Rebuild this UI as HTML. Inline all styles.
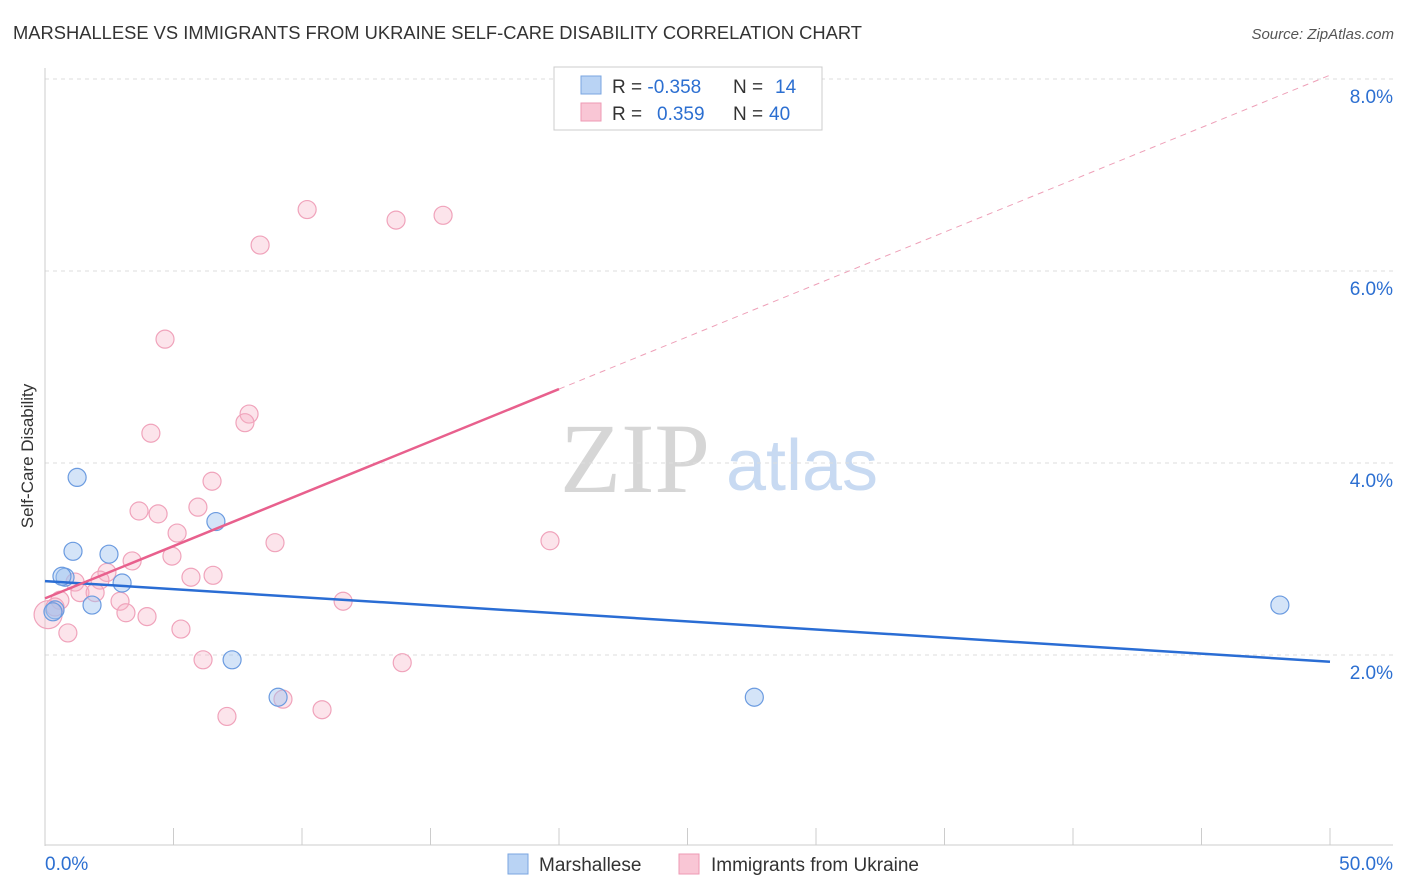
<!DOCTYPE html>
<html><head><meta charset="utf-8"><style>
body{margin:0;background:#fff;font-family:"Liberation Sans",sans-serif}
svg{display:block}
</style></head><body>
<svg id="chart" width="1406" height="892">
<text x="13" y="39" font-size="18" fill="#333" textLength="849" lengthAdjust="spacingAndGlyphs">MARSHALLESE VS IMMIGRANTS FROM UKRAINE SELF-CARE DISABILITY CORRELATION CHART</text>
<text x="1394" y="39" font-size="15" fill="#555" text-anchor="end" font-style="italic">Source: ZipAtlas.com</text>
<text x="33" y="456" font-size="17" fill="#333" text-anchor="middle" transform="rotate(-90 33 456)">Self-Care Disability</text>
<g><text x="635" y="492" font-size="100" fill="#d6d6d6" text-anchor="middle" font-family="Liberation Serif,serif">ZIP</text><text x="802" y="490" font-size="72" fill="#c8daf2" text-anchor="middle">atlas</text></g>
<g id="grid"></g><g id="axes"></g><g id="marks"></g>
<g>
<rect x="554" y="67" width="268" height="63" fill="#fff" stroke="#ccc"/>
<rect x="581" y="76" width="20" height="18" fill="#b9d3f4" stroke="#7aa6e0"/>
<rect x="581" y="103" width="20" height="18" fill="#f9c6d5" stroke="#ee9ab4"/>
<text x="612" y="93" font-size="19" fill="#333">R = <tspan fill="#2c6fd1">-0.358</tspan><tspan x="733">N = </tspan><tspan fill="#2c6fd1" x="775">14</tspan></text>
<text x="612" y="120" font-size="19" fill="#333">R = <tspan fill="#2c6fd1" x="657">0.359</tspan><tspan x="733">N = </tspan><tspan fill="#2c6fd1" x="769">40</tspan></text>
</g>
<g>
<rect x="508" y="854" width="20" height="20" fill="#b9d3f4" stroke="#7aa6e0"/>
<text x="539" y="871" font-size="19" fill="#333">Marshallese</text>
<rect x="679" y="854" width="20" height="20" fill="#f9c6d5" stroke="#ee9ab4"/>
<text x="711" y="871" font-size="19" fill="#333">Immigrants from Ukraine</text>
</g>
</svg>
<script>
const yTicks=[2,4,6,8];
const yTickLabels=["2.0%","4.0%","6.0%","8.0%"];
const xTickLabels=["0.0%","50.0%"];
const blueX=[0.39,1.25,1.09,0.78,1.83,2.49,3.0,6.65,7.28,9.07,27.6,48.05,0.66,0.31];
const blueY=[2.47,3.85,3.08,2.81,2.52,3.05,2.75,3.39,1.95,1.56,1.56,2.52,2.82,2.45];
const pinkX=[10.2,13.66,15.49,8.37,4.67,7.94,7.78,4.12,6.5,3.66,4.4,5.95,5.14,8.95,19.65,4.94,3.39,2.41,5.68,6.54,1.17,2.14,1.36,1.95,2.92,11.6,3.15,3.97,0.58,0.89,5.29,6.15,13.9,7.08,9.26,10.78,0.12,0.39];
const pinkY=[6.64,6.53,6.58,6.27,5.29,4.51,4.42,4.31,3.81,3.5,3.47,3.54,3.27,3.17,3.19,3.03,2.98,2.86,2.81,2.83,2.76,2.78,2.65,2.65,2.56,2.56,2.44,2.4,2.57,2.23,2.27,1.95,1.92,1.36,1.54,1.43,2.42,2.5];
const blueTrend=[2.77,-0.0168];
const pinkTrend=[2.59,0.109];
const xs=v=>45+v*25.7, ys=v=>847-v*96;
const NS="http://www.w3.org/2000/svg";
function mk(p,t,a){const e=document.createElementNS(NS,t);for(const k in a)e.setAttribute(k,a[k]);p.appendChild(e);return e;}
const grid=document.getElementById('grid'),axes=document.getElementById('axes'),marks=document.getElementById('marks');
yTicks.forEach((v,i)=>{
 const l=mk(grid,'line',{x1:45,x2:1393,y1:ys(v),y2:ys(v),stroke:'#ddd','stroke-dasharray':'4,4'});
 
 
 const t=mk(axes,'text',{x:1393,y:ys(v)+24,'font-size':19,fill:'#2c6fd1','text-anchor':'end'});t.textContent=yTickLabels[i];
 
 
});
mk(axes,'line',{x1:45,x2:45,y1:68,y2:846,stroke:'#ccc'});
mk(axes,'line',{x1:45,x2:1393,y1:845,y2:845,stroke:'#ccc'});
for(let i=0;i<=10;i++){mk(axes,'line',{x1:xs(i*5),x2:xs(i*5),y1:828,y2:845,stroke:'#ccc'});}
[[0,'start',45],[50,'end',1393]].forEach((a,i)=>{const t=mk(axes,'text',{x:a[2],y:870,'font-size':19,fill:'#2c6fd1','text-anchor':a[1]});t.textContent=xTickLabels[i];
 
 });
pinkX.forEach((x,i)=>{const c=mk(marks,'circle',{cx:xs(x),cy:ys(pinkY[i]),r:i==36?14:9,fill:'rgba(247,178,199,0.35)',stroke:'#f0a3bb','stroke-width':1.2});
 
 });
blueX.forEach((x,i)=>{const c=mk(marks,'circle',{cx:xs(x),cy:ys(blueY[i]),r:9,fill:'rgba(160,195,240,0.45)',stroke:'#6b9be0','stroke-width':1.2});
 
 });
let l=mk(marks,'line',{x1:xs(0),y1:ys(blueTrend[0]),x2:xs(50),y2:ys(blueTrend[0]+50*blueTrend[1]),stroke:'#2a6dd4','stroke-width':2.5});


l=mk(marks,'line',{x1:xs(0),y1:ys(pinkTrend[0]),x2:xs(20),y2:ys(pinkTrend[0]+20*pinkTrend[1]),stroke:'#e8608d','stroke-width':2.5});


l=mk(marks,'line',{x1:xs(20),y1:ys(pinkTrend[0]+20*pinkTrend[1]),x2:xs(50),y2:ys(pinkTrend[0]+50*pinkTrend[1]),stroke:'#eea0b8','stroke-width':1,'stroke-dasharray':'6,5'});


</script>
</body></html>
